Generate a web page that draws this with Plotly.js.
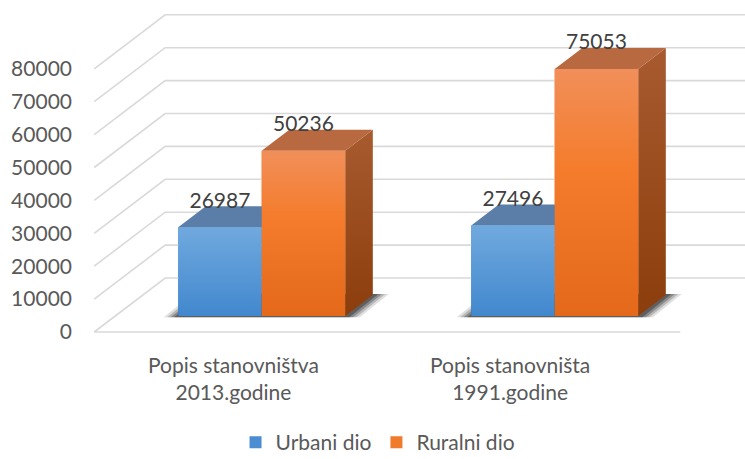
<!DOCTYPE html>
<html><head><meta charset="utf-8">
<script src="https://cdn.plot.ly/plotly-3.0.1.min.js"></script>
<style>html,body{margin:0;padding:0;background:#fff}#chart{width:745px;height:459px}</style>
</head><body><div id="chart"></div>
<script>
// ---- data ----
const categories = ['Popis stanovništva<br>2013.godine', 'Popis stanovništa<br>1991.godine'];
const seriesNames = ['Urbani dio', 'Ruralni dio'];
const urbani = [26987, 27496];
const ruralni = [50236, 75053];
const yTicks = [0, 10000, 20000, 30000, 40000, 50000, 60000, 70000, 80000];

// ---- layout / style constants ----
const FONT = 'Lato, "Open Sans", sans-serif';
const FS = 21;
const DX = 0.2423;      // x shift for full depth (category units)
const DY = 16413;       // y shift for full depth (value units)
const D1 = 0.296, D2 = 0.685;  // bar front/back depth
const BW = 0.285;       // bar width
const XMIN = -0.5, XMAX = 1.5; // floor extent
const LABEL_X = [-0.023, 0.919];
const LABEL_PAD = 1200;
const GRID = '#d9d9d9';

const styles = [
  {legend:'#4a8dd2', front:[[0,'#4288ce'],[1,'#70a9de']], top:'#5a7ea7', side:[[0,'#2f5f90'],[1,'#41719f']]},
  {legend:'#f07b2c', front:[[0,'#e4691a'],[0.6,'#f47c2c'],[1,'#f18f5a']], top:'#b8693f', side:[[0,'#8c3d0c'],[1,'#a75b2f']]}
];
const series = [urbani, ruralni];

function P(x, v, d) { return [x + d * DX, v + d * DY]; }
function poly(pts) {
  const xs = [], ys = [];
  pts.forEach(p => { const q = P(p[0], p[1], p[2]); xs.push(q[0]); ys.push(q[1]); });
  xs.push(xs[0]); ys.push(ys[0]);
  return {x: xs, y: ys};
}

const traces = [];

// legend / solid front faces as real bars
series.forEach((vals, s) => {
  const xc = vals.map((v, i) => i + (s === 0 ? -BW / 2 : BW / 2) + D1 * DX);
  traces.push({
    type: 'bar', name: seriesNames[s], x: xc, y: vals,
    base: vals.map(() => D1 * DY), width: BW,
    marker: {color: styles[s].legend, line: {width: 0}},
    hoverinfo: 'skip'
  });
});

// gridlines
const gx = [], gy = [];
yTicks.forEach(v => {
  [[XMIN, v, 0], [XMIN, v, 1], [XMAX, v, 1]].forEach(p => { const q = P(...p); gx.push(q[0]); gy.push(q[1]); });
  gx.push(null); gy.push(null);
});
[[XMIN, 0, 0], [XMAX, 0, 0]].forEach(p => { const q = P(...p); gx.push(q[0]); gy.push(q[1]); });
traces.push({type: 'scatter', mode: 'lines', x: gx, y: gy, line: {color: GRID, width: 1.6},
  showlegend: false, hoverinfo: 'skip'});

// shadows
categories.forEach((c, i) => {
  const x0 = i - BW, x1 = i + BW;
  [[0.05, 0.12], [0.038, 0.18], [0.026, 0.25], [0.014, 0.3]].forEach(([e, a]) => {
    const pg = poly([[x0 - e, -400, D1], [x1 + e, -400, D1], [x1 + e, 0, D2 + 0.02], [x0 - e, 0, D2 + 0.02]]);
    traces.push({type: 'scatter', mode: 'lines', x: pg.x, y: pg.y, fill: 'toself',
      fillcolor: 'rgba(0,0,0,' + a + ')', line: {width: 0}, showlegend: false, hoverinfo: 'skip'});
  });
});

// 3D faces
categories.forEach((c, i) => {
  series.forEach((vals, s) => {
    const v = vals[i];
    const x0 = s === 0 ? i - BW : i;
    const x1 = x0 + BW;
    const st = styles[s];
    const side = poly([[x1, 0, D1], [x1, 0, D2], [x1, v, D2], [x1, v, D1]]);
    traces.push({type: 'scatter', mode: 'lines', x: side.x, y: side.y, fill: 'toself',
      fillgradient: {type: 'vertical', colorscale: st.side}, line: {width: 0},
      showlegend: false, hoverinfo: 'skip'});
    const top = poly([[x0, v, D1], [x1, v, D1], [x1, v, D2], [x0, v, D2]]);
    traces.push({type: 'scatter', mode: 'lines', x: top.x, y: top.y, fill: 'toself',
      fillcolor: st.top, line: {width: 0}, showlegend: false, hoverinfo: 'skip'});
    const front = poly([[x0, 0, D1], [x1, 0, D1], [x1, v, D1], [x0, v, D1]]);
    traces.push({type: 'scatter', mode: 'lines', x: front.x, y: front.y, fill: 'toself',
      fillgradient: {type: 'vertical', colorscale: st.front}, line: {width: 0},
      showlegend: false, hoverinfo: 'skip'});
  });
});

// value labels
series.forEach((vals, s) => {
  traces.push({
    type: 'scatter', mode: 'text',
    x: vals.map((v, i) => (s === 0 ? i - BW / 2 : i + BW / 2) + D1 * DX),
    y: vals.map(v => v + D2 * DY + LABEL_PAD),
    text: vals.map(v => String(v)), textposition: 'middle center',
    textfont: {family: FONT, size: FS, color: '#404040'},
    showlegend: false, hoverinfo: 'skip', cliponaxis: false
  });
});

const annotations = categories.map((c, i) => ({
  x: LABEL_X[i], y: 0, xref: 'x', yref: 'y', yshift: -46, text: c, showarrow: false,
  font: {family: FONT, size: FS, color: '#595959'}, align: 'center', xanchor: 'center', yanchor: 'middle'
}));

const layout = {
  width: 745, height: 459,
  margin: {l: 82, r: 0, t: 0, b: 0, autoexpand: false},
  paper_bgcolor: '#ffffff', plot_bgcolor: '#ffffff',
  barmode: 'overlay',
  showlegend: true,
  legend: {orientation: 'h', x: 0.4465, xanchor: 'center', y: -0.009, yanchor: 'bottom',
    font: {family: FONT, size: FS, color: '#595959'}, bgcolor: 'rgba(0,0,0,0)', traceorder: 'normal'},
  xaxis: {range: [-0.5416, 1.7212], showgrid: false, zeroline: false, showticklabels: false,
    showline: false, ticks: '', fixedrange: true},
  yaxis: {range: [-38602, 100912], showgrid: false, zeroline: false, showline: false,
    tickmode: 'array', tickvals: yTicks, ticktext: yTicks.map(String), ticks: '',
    ticklabelstandoff: 9, tickfont: {family: FONT, size: FS, color: '#595959'}, fixedrange: true},
  annotations: annotations,
  hovermode: false
};

Plotly.newPlot('chart', traces, layout, {displayModeBar: false, staticPlot: true});
</script>
</body></html>
